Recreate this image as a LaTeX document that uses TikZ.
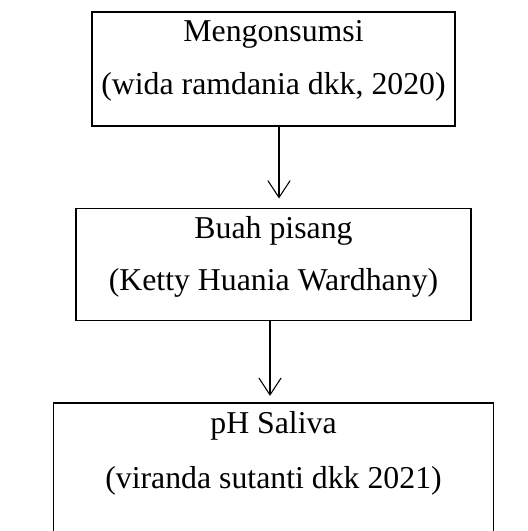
\documentclass[tikz,border=0pt]{standalone}
\usepackage{fontspec}
\setmainfont{Liberation Serif}
\usetikzlibrary{arrows.meta,calc}

\begin{document}
\begin{tikzpicture}[x=0.3774pt,y=-0.3774pt,
	kotak/.style={draw, line width=0.65pt, inner sep=0pt},
	teks/.style={anchor=base, inner sep=0pt, font=\fontsize{12}{14}\selectfont},
	panah/.style={line width=0.4pt, -{Straight Barb[length=6.4pt,width=8.4pt]}}]
	%%%%% START %%%%%
	\useasboundingbox (0,0) rectangle (528,531);
	
	\node[kotak, minimum width=137pt, minimum height=42.9pt] (mengonsumsi) at (273.5, 68.9) {};
	\node[teks] (t1a) at ($(mengonsumsi.north)+(0,30.5)$) {Mengonsumsi};
	\node[teks] (t1b) at ($(mengonsumsi.north)+(0,83)$) {(wida ramdania dkk, 2020)};
	
	\node[kotak, minimum width=149.1pt, minimum height=42.3pt] (pisang) at (273.5, 264.4) {};
	\node[teks] (t2a) at ($(pisang.north)+(0,30.5)$) {Buah pisang};
	\node[teks] (t2b) at ($(pisang.north)+(0,83)$) {(Ketty Huania Wardhany)};
	
	\node[kotak, minimum width=166pt, minimum height=53.5pt] (saliva) at (273.5, 474.2) {};
	\node[teks] (t3a) at ($(saliva.north)+(0,31.5)$) {pH Saliva};
	\node[teks] (t3b) at ($(saliva.north)+(0,86.5)$) {(viranda sutanti dkk 2021)};
	
	\draw[panah] ($(mengonsumsi.south)+(5.5,0)$) -- ($(pisang.north)+(5.5,-9)$);
	\draw[panah] ($(pisang.south)+(-3.5,0)$) -- ($(saliva.north)+(-3.5,-6.6)$);
	%%%%% END %%%%%
\end{tikzpicture}
\end{document}
